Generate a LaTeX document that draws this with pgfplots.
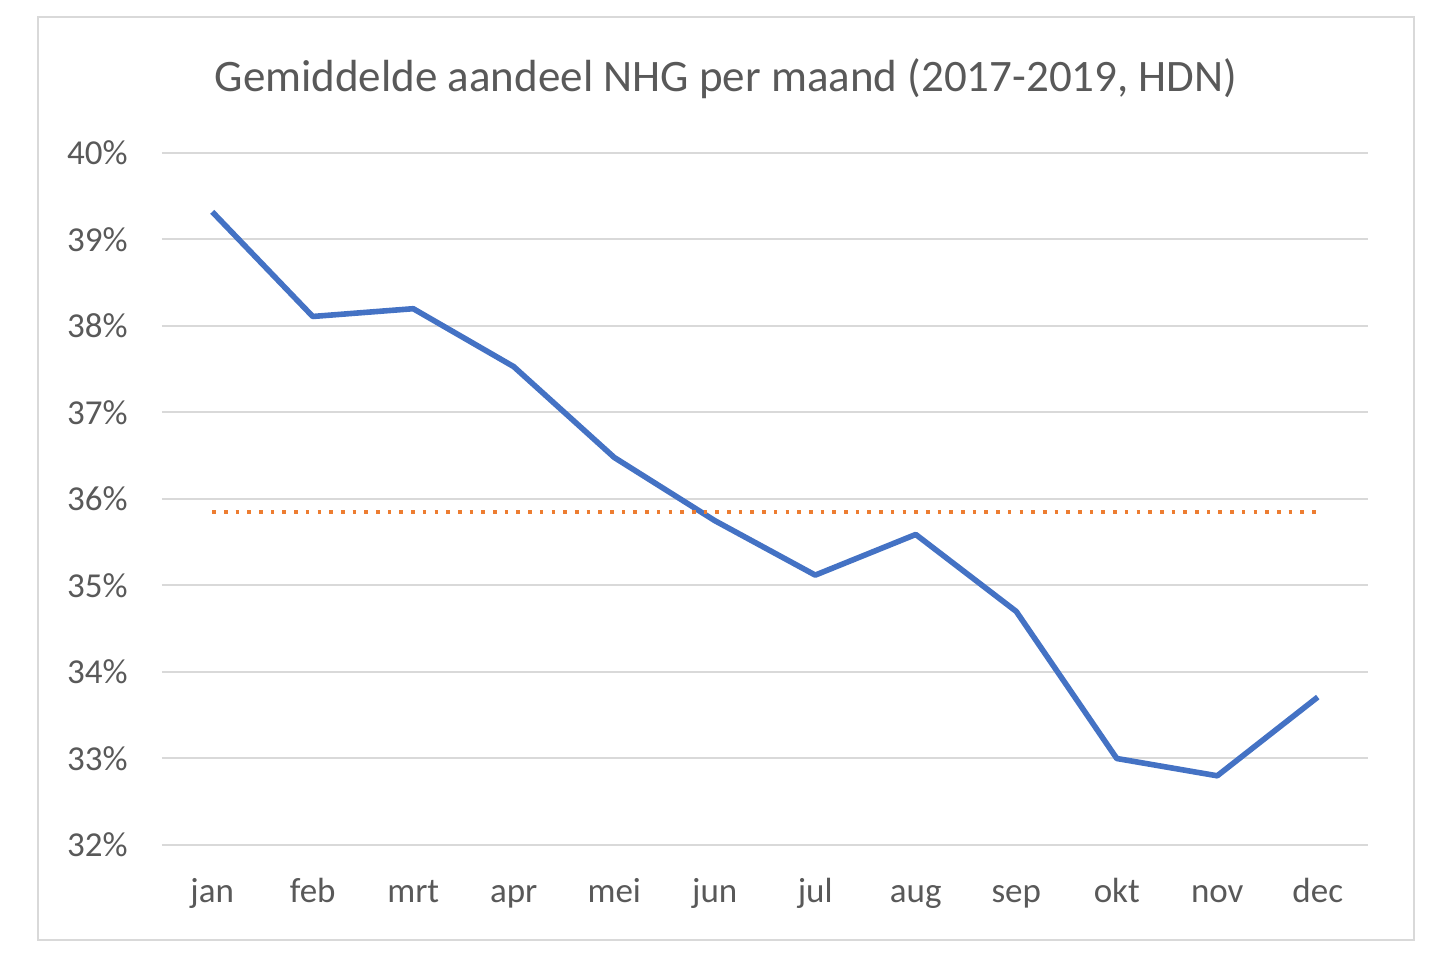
\documentclass[border=0pt]{standalone}
\usepackage{fontspec}
\setmainfont{Carlito}
\usepackage{pgfplots}
\pgfplotsset{compat=1.18}

\definecolor{txtgray}{HTML}{595959}
\definecolor{gridgray}{HTML}{D9D9D9}
\definecolor{xlblue}{HTML}{4472C4}
\definecolor{xlorange}{HTML}{ED7D31}

\begin{document}
\begin{tikzpicture}
\begin{axis}[
    name=ax,
    scale only axis,
    width=603pt,
    height=346pt,
    xmin=-0.5, xmax=11.5,
    ymin=32, ymax=40,
    xtick=data,
    xticklabels={jan,feb,mrt,apr,mei,jun,jul,aug,sep,okt,nov,dec},
    ytick={32,33,...,40},
    yticklabels={32\%,33\%,34\%,35\%,36\%,37\%,38\%,39\%,40\%},
    major tick length=0pt,
    axis line style={draw=none},
    ymajorgrids,
    grid style={gridgray, line width=1pt},
    tick label style={font=\fontsize{17.5}{20}\selectfont, text=txtgray, inner sep=0pt},
    yticklabel style={anchor=east, xshift=-17pt},
    xticklabel style={anchor=base, yshift=-29pt},
    clip=false,
]
% gemiddelde aandeel per maand
\addplot[xlblue, line width=2.8pt, line join=round] coordinates {
    (0,39.32) (1,38.11) (2,38.20) (3,37.53) (4,36.48) (5,35.75)
    (6,35.12) (7,35.59) (8,34.70) (9,33.00) (10,32.80) (11,33.71)
};
% gemiddelde over het jaar
\addplot[xlorange, line width=1.8pt, dash pattern=on 1.8pt off 4.05pt] coordinates {
    (0,35.85) (1,35.85) (2,35.85) (3,35.85) (4,35.85) (5,35.85)
    (6,35.85) (7,35.85) (8,35.85) (9,35.85) (10,35.85) (11,35.85)
};
\end{axis}
\draw[gridgray, line width=1.3pt] (ax.south west) ++(-62pt,-47.5pt) rectangle ++(688pt,461.5pt);
\node[anchor=base, text=txtgray, font=\fontsize{22.5}{26}\selectfont, inner sep=0pt]
    at ([shift={(282pt,376.5pt)}]ax.south west) {Gemiddelde aandeel NHG per maand (2017-2019, HDN)};
\path[use as bounding box] (ax.south west) ++(-81pt,-58.5pt) rectangle ++(720pt,481pt);
\end{tikzpicture}
\end{document}
